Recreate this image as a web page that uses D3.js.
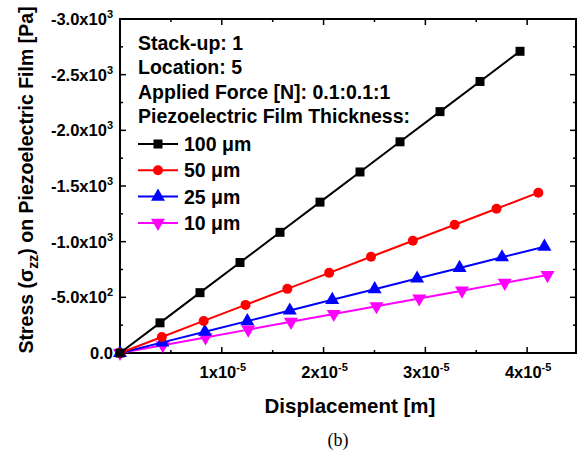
<!DOCTYPE html>
<html>
<head>
<meta charset="utf-8">
<script src="https://cdn.jsdelivr.net/npm/d3@7"></script>
<style>
  body { margin: 0; background: #fff; }
  svg { display: block; font-family: "Liberation Sans", Arial, sans-serif; }
</style>
</head>
<body>
<svg id="chart" width="581" height="462"></svg>
<script>
// displacement in units of 1e-5 m, stress in Pa
var thickness = ["100 \u03bcm", "50 \u03bcm", "25 \u03bcm", "10 \u03bcm"];
var colors = ["#000000", "#ff0000", "#0000ff", "#ff00ff"];
var shapes = ["square", "circle", "triangle", "triangleDown"];

var disp100 = [0, 0.393, 0.786, 1.179, 1.572, 1.965, 2.358, 2.751, 3.144, 3.537, 3.93];
var disp50  = [0, 0.411, 0.822, 1.233, 1.644, 2.055, 2.466, 2.877, 3.288, 3.699, 4.11];
var disp25  = [0, 0.417, 0.834, 1.251, 1.668, 2.085, 2.502, 2.919, 3.336, 3.753, 4.17];
var disp10  = [0, 0.42, 0.84, 1.26, 1.68, 2.1, 2.52, 2.94, 3.36, 3.78, 4.2];

var stress100 = [0, -271, -542, -813, -1084, -1355, -1626, -1897, -2168, -2439, -2710];
var stress50  = [0, -144, -288, -432, -576, -720, -864, -1008, -1152, -1296, -1440];
var stress25  = [0, -95.5, -191, -286.5, -382, -477.5, -573, -668.5, -764, -859.5, -955];
var stress10  = [0, -70, -140, -210, -280, -350, -420, -490, -560, -630, -700];

var yTicks = [0, -500, -1000, -1500, -2000, -2500, -3000];
var yTickMant = ["0.0", "-5.0x10", "-1.0x10", "-1.5x10", "-2.0x10", "-2.5x10", "-3.0x10"];
var yTickExp = ["", "2", "3", "3", "3", "3", "3"];
var xTicks = [1, 2, 3, 4];
var xTickMant = ["1x10", "2x10", "3x10", "4x10"];
var xTickExp = ["-5", "-5", "-5", "-5"];

var infoLines = ["Stack-up: 1", "Location: 5", "Applied Force [N]: 0.1:0.1:1", "Piezoelectric Film Thickness:"];

var series = [
  {x: disp100, y: stress100},
  {x: disp50, y: stress50},
  {x: disp25, y: stress25},
  {x: disp10, y: stress10}
];

var svg = d3.select("#chart");
var margin = {top: 19, right: 5, bottom: 109, left: 120};
var width = 576 - margin.left, height = 353 - margin.top;

var x = d3.scaleLinear().domain([0, 4.48]).range([0, width]);
var y = d3.scaleLinear().domain([0, -3000]).range([height, 0]);

var g = svg.append("g").attr("transform", "translate(" + margin.left + "," + margin.top + ")");

// ticks (inward, all four sides)
var xMinor = d3.range(0.5, 4.48, 0.5);
var yMinor = d3.range(0, -3001, -250);
function tickLen(v, step) { return Math.abs(Math.round(v / step) - v / step) < 1e-6 ? 6 : 3; }

xMinor.forEach(function(v) {
  var L = tickLen(v, 1);
  g.append("line").attr("x1", x(v)).attr("x2", x(v)).attr("y1", height).attr("y2", height - L)
    .attr("stroke", "#000").attr("stroke-width", 1.5);
  g.append("line").attr("x1", x(v)).attr("x2", x(v)).attr("y1", 0).attr("y2", L)
    .attr("stroke", "#000").attr("stroke-width", 1.5);
});
yMinor.forEach(function(v) {
  var L = tickLen(v, 500);
  g.append("line").attr("x1", 0).attr("x2", L).attr("y1", y(v)).attr("y2", y(v))
    .attr("stroke", "#000").attr("stroke-width", 1.5);
  g.append("line").attr("x1", width).attr("x2", width - L).attr("y1", y(v)).attr("y2", y(v))
    .attr("stroke", "#000").attr("stroke-width", 1.5);
});

// frame
g.append("rect").attr("width", width).attr("height", height)
  .attr("fill", "none").attr("stroke", "#000").attr("stroke-width", 2);

// y tick labels
yTicks.forEach(function(v, i) {
  var t = g.append("text").attr("x", -7).attr("y", y(v) + 6)
    .attr("text-anchor", "end").attr("font-size", 16.5).attr("font-weight", "bold");
  t.append("tspan").text(yTickMant[i]);
  if (yTickExp[i]) t.append("tspan").attr("dy", -7).attr("font-size", 11).text(yTickExp[i]);
});

// x tick labels
xTicks.forEach(function(v, i) {
  var t = g.append("text").attr("x", x(v) + 1).attr("y", height + 25)
    .attr("text-anchor", "middle").attr("font-size", 16.5).attr("font-weight", "bold");
  t.append("tspan").text(xTickMant[i]);
  t.append("tspan").attr("dy", -7).attr("font-size", 11).text(xTickExp[i]);
});

// axis titles
svg.append("text").attr("x", 350).attr("y", 413)
  .attr("text-anchor", "middle").attr("font-size", 20.5).attr("font-weight", "bold")
  .text("Displacement [m]");

var yt = svg.append("text").attr("transform", "translate(33," + 180 + ") rotate(-90)")
  .attr("text-anchor", "middle").attr("font-size", 19.5).attr("font-weight", "bold");
yt.append("tspan").text("Stress (\u03c3");
yt.append("tspan").attr("dy", 5).attr("font-size", 14).text("zz");
yt.append("tspan").attr("dy", -5).text(") on Piezoelectric Film [Pa]");

svg.append("text").attr("x", 338).attr("y", 446).attr("text-anchor", "middle")
  .attr("font-family", "'Liberation Serif', 'Times New Roman', serif").attr("font-size", 18)
  .text("(b)");

// markers
function drawMarker(sel, shape, color, cx, cy) {
  if (shape === "circle") {
    sel.append("circle").attr("cx", cx).attr("cy", cy).attr("r", 5).attr("fill", color);
  } else {
    var sym = shape === "square" ? d3.symbolSquare : d3.symbolTriangle;
    var size = shape === "square" ? 81 : 85;
    sel.append("path").attr("d", d3.symbol().type(sym).size(size)())
      .attr("transform", "translate(" + cx + "," + cy + ")" + (shape === "triangleDown" ? " rotate(180)" : ""))
      .attr("fill", color);
  }
}

var line = d3.line().x(function(d) { return x(d[0]); }).y(function(d) { return y(d[1]); });

// draw in reverse so black is on top
for (var k = series.length - 1; k >= 0; k--) {
  var pts = d3.zip(series[k].x, series[k].y);
  var sg = g.append("g");
  sg.append("path").datum(pts).attr("d", line).attr("fill", "none")
    .attr("stroke", colors[k]).attr("stroke-width", 2);
  pts.forEach(function(p) { drawMarker(sg, shapes[k], colors[k], x(p[0]), y(p[1])); });
}

// info text + legend
infoLines.forEach(function(s, i) {
  svg.append("text").attr("x", 138).attr("y", 50 + i * 24.3)
    .attr("font-size", 19.5).attr("font-weight", "bold").text(s);
});
thickness.forEach(function(s, i) {
  var ly = 144 + i * 26.3;
  svg.append("line").attr("x1", 138).attr("x2", 178).attr("y1", ly).attr("y2", ly)
    .attr("stroke", colors[i]).attr("stroke-width", 2);
  drawMarker(svg, shapes[i], colors[i], 158, ly);
  svg.append("text").attr("x", 184).attr("y", ly + 7)
    .attr("font-size", 19.5).attr("font-weight", "bold").text(s);
});
</script>
</body>
</html>
